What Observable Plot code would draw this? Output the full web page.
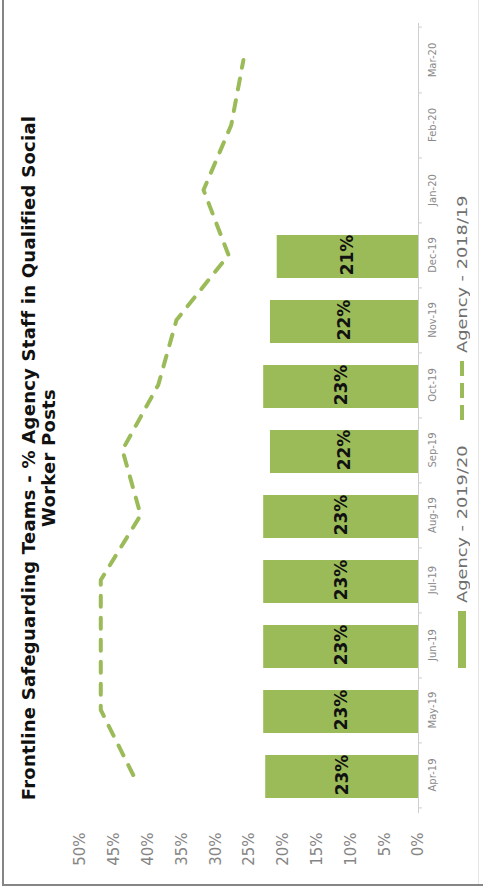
<!DOCTYPE html>
<html>
<head>
<meta charset="utf-8">
<script src="https://cdn.jsdelivr.net/npm/d3@7"></script>
<script src="https://cdn.jsdelivr.net/npm/@observablehq/plot@0.6"></script>
<style>
  html, body { margin: 0; padding: 0; background: #fff; width: 483px; height: 894px; overflow: hidden; }
  #frame {
    position: absolute; left: 0; top: 0; width: 894px; height: 483px;
    transform-origin: 0 0; transform: translate(0, 894px) rotate(-90deg);
    font-family: "DejaVu Sans", sans-serif;
  }
  #title {
    height: 60px; box-sizing: border-box; padding-top: 19px; width: 872px;
    text-align: center; font-weight: bold; font-size: 18px; letter-spacing: 0.25px;
    line-height: 20px; color: #111; white-space: nowrap;
  }
  #chart svg { display: block; }
  #legend { position: relative; height: 38px; }
  .sw { position: absolute; }
  .lt { position: absolute; top: 10px; font-size: 14px; line-height: 14px; color: #707070;
        white-space: nowrap; transform: scaleX(1.27); transform-origin: 0 50%; }
  #bl { position: absolute; left: 2px; top: 0; width: 2px; height: 886px; background: #858585; }
  #bb { position: absolute; left: 2px; top: 884px; width: 481px; height: 2px; background: #858585; }
  #br { position: absolute; left: 478px; top: 0; width: 1px; height: 884px; background: #e6e6e6; }
</style>
</head>
<body>
<div id="bl"></div><div id="bb"></div><div id="br"></div>
<div id="frame">
  <div id="title"></div>
  <div id="chart"></div>
  <div id="legend"></div>
</div>
<script>
// ---- data ----
const months = ["Apr-19","May-19","Jun-19","Jul-19","Aug-19","Sep-19","Oct-19","Nov-19","Dec-19","Jan-20","Feb-20","Mar-20"];
const agency1920 = [22.6, 22.9, 22.9, 22.9, 22.9, 21.9, 22.9, 21.9, 20.9];
const agency1819 = [42.2, 47.0, 47.0, 47.0, 41.1, 43.8, 38.5, 35.8, 28.1, 31.8, 27.7, 25.9];
const yTicks = [0, 5, 10, 15, 20, 25, 30, 35, 40, 45, 50];
const titleLines = ["Frontline Safeguarding Teams - % Agency Staff in Qualified Social", "Worker Posts"];
const seriesNames = ["Agency - 2019/20", "Agency - 2018/19"];

const green = "#9BBB59";

const bars = agency1920.map((v, i) => ({month: months[i], value: v, label: Math.round(v) + "%"}));
const line = agency1819.map((v, i) => ({month: months[i], value: v}));

const W = 894, H = 385, mL = 81, mR = 23, mT = 20, mB = 27;
const bw = (W - mL - mR) / months.length;

const chart = Plot.plot({
  width: W, height: H,
  marginLeft: mL, marginRight: mR, marginTop: mT, marginBottom: mB,
  style: {fontFamily: "DejaVu Sans, sans-serif", background: "transparent"},
  x: {type: "band", domain: months, padding: 0},
  y: {domain: [0, 50]},
  marks: [
    Plot.barY(bars, {x: "month", y: "value", fill: green, insetLeft: 10, insetRight: 12}),
    Plot.text(bars, {x: "month", y: d => d.value / 2, text: "label", fontWeight: "bold", fontSize: 17, fill: "#111"}),
    Plot.line(line, {x: "month", y: "value", stroke: green, strokeWidth: 4, strokeDasharray: "11,11", strokeLinecap: "round", strokeLinejoin: "round"}),
    Plot.ruleY([0], {stroke: "#cfcfcf", strokeWidth: 1}),
    Plot.ruleX(months, {x: d => d, y1: 0, y2: 0, insetBottom: -4, dx: -bw / 2, stroke: "#cfcfcf"}),
    Plot.ruleX([months[months.length - 1]], {x: d => d, y1: 0, y2: 0, insetBottom: -4, dx: bw / 2, stroke: "#cfcfcf"}),
    Plot.axisX({tickSize: 0, tickPadding: 10, fontSize: 10, color: "#8a8a8a", label: null}),
    Plot.axisY({ticks: yTicks, tickFormat: d => d + "%", tickSize: 0, tickPadding: 20, fontSize: 15, color: "#858585", label: null})
  ]
});
document.getElementById("chart").appendChild(chart);

// title
document.getElementById("title").innerHTML = titleLines.join("<br>");

// legend
const lg = document.getElementById("legend");
lg.innerHTML = `
  <div class="sw" style="left:226px;top:13px;width:57px;height:8px;background:${green}"></div>
  <div class="lt" style="left:291px">${seriesNames[0]}</div>
  <svg class="sw" style="left:474px;top:13px" width="60" height="8"><line x1="0" y1="4" x2="60" y2="4" stroke="${green}" stroke-width="4" stroke-dasharray="15,7"/></svg>
  <div class="lt" style="left:541px">${seriesNames[1]}</div>`;
</script>
</body>
</html>
